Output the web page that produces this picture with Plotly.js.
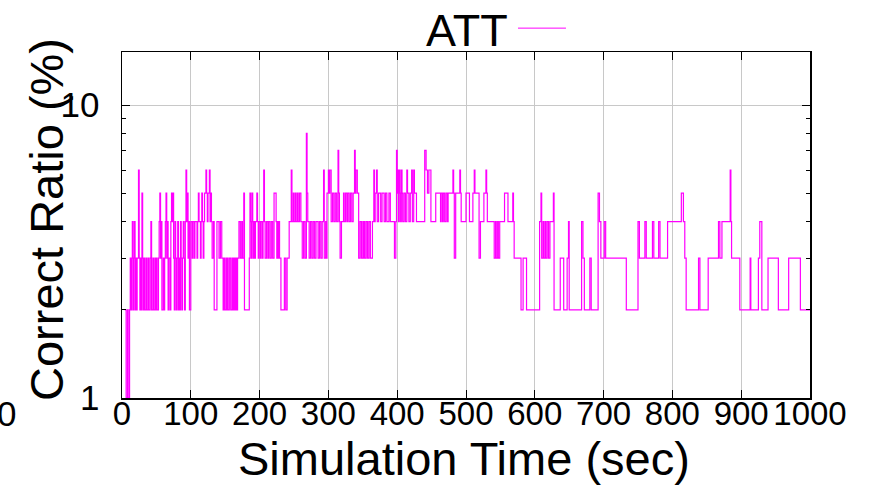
<!DOCTYPE html>
<html>
<head>
<meta charset="utf-8">
<script src="https://cdn.plot.ly/plotly-3.0.1.min.js"></script>
<style>html,body{margin:0;padding:0;background:#fff;}#chart{width:871px;height:492px;}</style>
</head>
<body>
<div id="chart"></div>
<script>
// Simulation time (sec) at which the ratio changes, and the ratio (%) from then on
const timeSec = [4,6,8,9,11,12,13,14,15,16,17,18,19,20,21,22,24,25,26,27,28,29,30,31,32,33,35,36,38,39,41,42,43,45,46,48,49,50,51,53,54,55,56,57,58,60,61,62,63,64,65,66,67,68,70,71,72,73,74,75,76,77,78,79,80,81,82,83,84,85,86,87,88,89,90,91,92,93,94,95,96,97,98,100,102,103,105,106,109,110,111,112,114,115,116,117,118,119,120,122,123,124,125,127,128,129,130,131,133,134,138,141,143,145,147,148,149,151,152,153,154,156,158,160,161,162,163,164,165,166,167,168,170,172,174,175,177,178,185,186,187,188,189,190,191,192,193,194,196,197,198,199,201,202,204,205,206,207,208,210,212,213,215,217,219,221,224,225,226,227,228,229,231,236,238,240,243,246,247,249,250,252,253,255,256,258,260,262,264,266,268,269,270,272,274,276,278,280,282,285,287,289,291,293,294,296,297,298,300,301,302,304,306,308,310,312,314,315,316,317,319,322,323,325,327,328,330,332,334,336,338,339,340,342,344,346,348,350,351,352,353,355,357,359,361,364,366,367,368,370,371,373,376,378,381,383,385,388,390,396,398,399,400,401,402,403,404,405,406,407,408,410,412,414,415,417,419,421,422,424,425,428,440,442,444,446,449,456,463,464,466,467,469,471,473,474,481,482,483,485,491,492,493,500,505,510,512,513,519,521,526,529,530,531,541,543,544,546,547,549,556,561,568,569,570,580,583,588,607,609,610,612,613,615,616,618,620,622,627,628,637,642,647,649,650,668,670,672,680,682,692,694,696,701,703,733,750,752,760,762,771,773,780,782,793,813,816,818,820,838,840,852,867,869,872,884,885,886,898,913,914,925,927,930,939,954,969,986,1000];
const correctRatio = [2,1,2,1,2,3,2,3,4,2,3,4,2,3,2,3,6,3,2,3,2,5,3,2,3,2,3,2,3,2,3,4,2,3,2,3,2,3,2,3,4,5,3,4,2,3,2,3,4,5,3,4,2,3,2,4,5,4,5,3,2,4,3,2,3,4,2,3,2,4,3,2,3,4,3,2,4,6,4,5,3,4,2,4,3,4,3,4,3,4,5,4,3,4,5,4,3,4,5,6,5,4,5,6,4,5,4,3,4,2,4,3,4,3,2,3,2,3,2,3,2,3,2,3,2,3,2,3,2,3,2,3,4,3,4,3,5,2,3,5,4,3,5,4,3,4,3,4,5,4,3,4,3,4,3,4,6,4,3,4,3,4,3,4,3,5,4,3,4,3,4,3,2,3,2,3,4,6,4,5,4,5,4,5,4,5,4,3,4,3,8,5,4,3,4,3,4,3,4,3,4,3,4,6,3,4,3,5,6,5,6,4,5,4,5,4,7,5,4,3,4,5,4,5,4,5,4,5,4,5,7,5,6,5,3,4,3,4,3,4,3,4,3,4,3,4,6,4,5,6,4,5,4,5,4,5,4,5,4,3,4,7,5,6,4,6,5,4,6,5,4,5,4,6,5,4,5,6,4,6,5,4,7,6,5,6,4,5,4,5,4,5,4,5,4,5,6,5,3,5,6,5,4,5,4,5,6,5,3,4,5,6,5,4,3,4,3,4,3,4,5,4,5,4,3,2,3,2,4,5,3,4,3,4,3,4,3,4,5,2,3,2,3,4,2,4,3,2,3,2,5,4,3,4,3,2,4,3,4,3,4,3,4,3,4,5,4,3,2,3,2,3,4,3,4,6,4,3,2,3,2,3,4,2,3,2,3,2,2];
const seriesName = 'ATT';
const xTickVals = [0,100,200,300,400,500,600,700,800,900,1000];
const xTickText = ['0','100','200','300','400','500','600','700','800','900','1000'];
const yTickVals = [1,10];
const yTickText = ['1','10'];
const yMinorVals = [2,3,4,5,6,7,8,9];
const xTitle = 'Simulation Time (sec)';
const yTitle = 'Correct Ratio (%)';

const FONT = 'Liberation Sans, Arial, Helvetica, sans-serif';
const MAG = '#ff00ff';

const trace = {
  x: timeSec, y: correctRatio, type: 'scatter', mode: 'lines',
  line: {color: MAG, width: 1.2, shape: 'hv'}, name: seriesName, showlegend: false
};

const layout = {
  width: 871, height: 492,
  margin: {l: 122, r: 61, t: 52, b: 94},
  paper_bgcolor: '#fff', plot_bgcolor: '#fff',
  font: {family: FONT, color: '#000', size: 33},
  showlegend: false,
  xaxis: {
    range: [0, 1000], tickmode: 'array', tickvals: xTickVals, ticktext: xTickText, tickangle: 0,
    ticks: 'inside', ticklen: 8, tickcolor: '#000', tickwidth: 1,
    showline: true, linecolor: '#000', linewidth: 1.5, mirror: 'ticks',
    showgrid: true, gridcolor: '#c8c8c8', gridwidth: 1, zeroline: false,
    tickfont: {family: FONT, size: 33, color: '#000'}, ticklabelstandoff: -14,
    automargin: false
  },
  yaxis: {
    type: 'log', range: [0, 1.181], tickmode: 'array', tickvals: yTickVals, ticktext: yTickText,
    ticks: 'inside', ticklen: 8, tickcolor: '#000', tickwidth: 1,
    minor: {tickmode: 'array', tickvals: yMinorVals, ticks: 'inside', ticklen: 4, tickcolor: '#000', showgrid: false},
    showline: true, linecolor: '#000', linewidth: 1.5, mirror: 'allticks',
    showgrid: true, gridcolor: '#c8c8c8', gridwidth: 1, zeroline: false,
    tickfont: {family: FONT, size: 35, color: '#000'}, ticklabelstandoff: 14,
    automargin: false
  },
  annotations: [
    {text: yTitle, textangle: -90, xref: 'paper', yref: 'paper', x: (46 - 122) / 688, y: (398 - 220) / 346,
     xanchor: 'center', yanchor: 'middle', showarrow: false, font: {family: FONT, size: 47, color: '#000'}},
    {text: xTitle, xref: 'paper', yref: 'paper', x: (464 - 122) / 688, y: (398 - 458) / 346,
     xanchor: 'center', yanchor: 'middle', showarrow: false, font: {family: FONT, size: 47, color: '#000'}},
    {text: seriesName, xref: 'paper', yref: 'paper', x: 0.5015, y: 1.061, xanchor: 'center', yanchor: 'middle',
     showarrow: false, font: {family: FONT, size: 45, color: '#000'}},
    {text: '0', xref: 'paper', yref: 'paper', x: -0.168, y: -0.045, xanchor: 'center', yanchor: 'middle',
     showarrow: false, font: {family: FONT, size: 35, color: '#000'}}
  ],
  shapes: [
    {type: 'line', xref: 'paper', yref: 'paper', x0: 0.5756, x1: 0.6453, y0: 1.069, y1: 1.069,
     line: {color: MAG, width: 1}}
  ]
};

Plotly.newPlot('chart', [trace], layout, {staticPlot: true, displayModeBar: false});
</script>
</body>
</html>
